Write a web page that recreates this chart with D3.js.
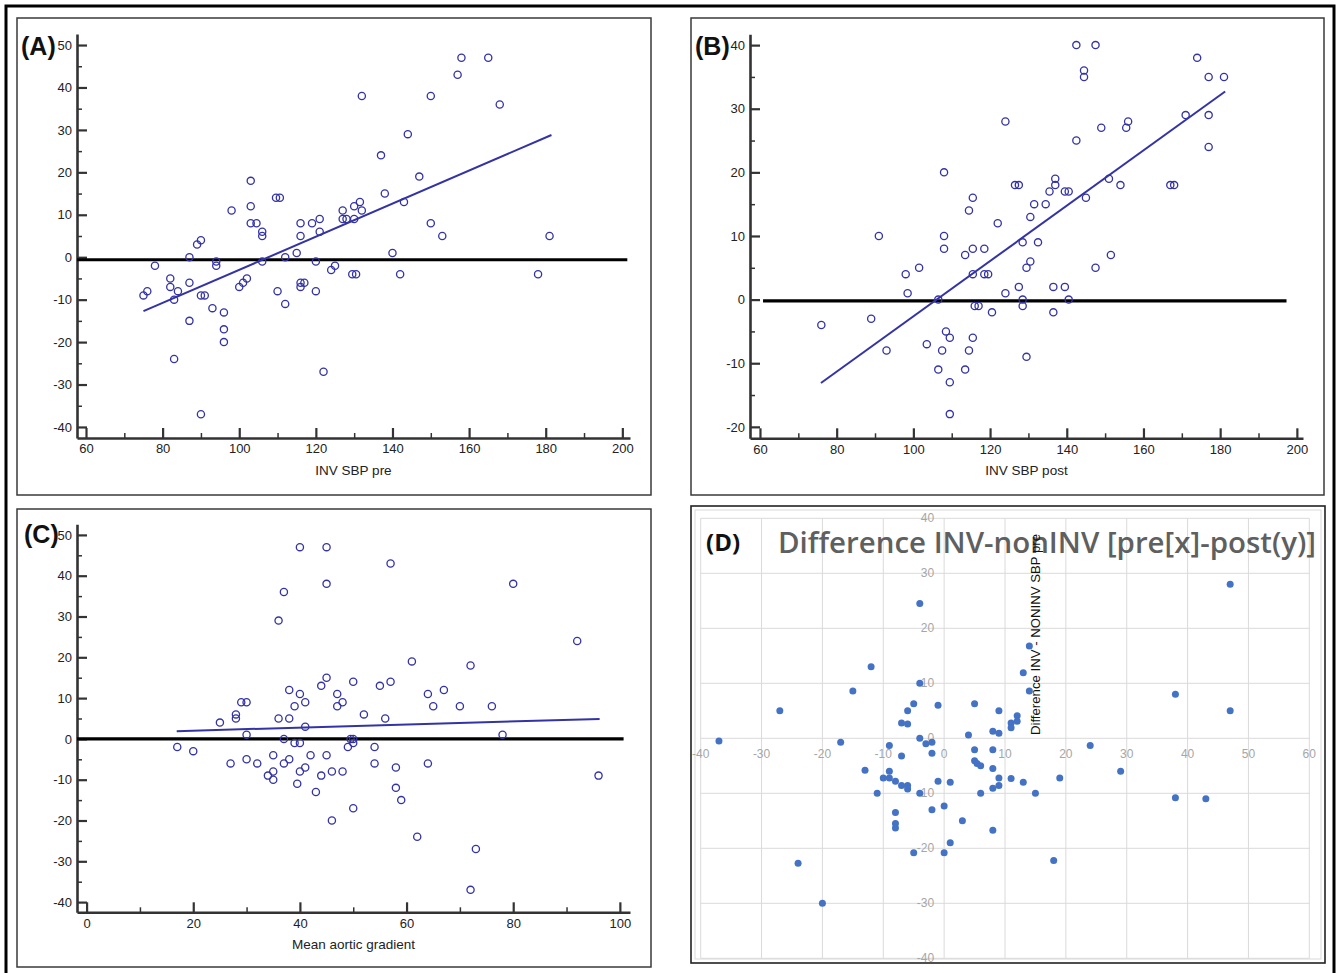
<!DOCTYPE html>
<html>
<head>
<meta charset="utf-8">
<script src="https://cdn.jsdelivr.net/npm/d3@7"></script>
<style>
  body { margin: 0; background: #fff; }
  svg { display: block; font-family: "Liberation Sans", Arial, sans-serif; }
</style>
</head>
<body>
<svg id="chart" width="1340" height="973"></svg>
<script>
// ---- data ----
// (A) difference vs INV SBP pre
const pointsA = [
  [75,-9],[76,-8],[78,-2],[82,-5],[82,-7],[83,-10],[83,-24],[84,-8],[87,0],[87,-6],[87,-15],
  [89,3],[90,4],[90,-9],[91,-9],[90,-37],[93,-12],[94,-1],[94,-2],[96,-13],[96,-17],[96,-20],
  [98,11],[100,-7],[101,-6],[102,-5],[103,18],[103,12],[103,8],[104.5,8],[106,6],[106,5],[106,-1],
  [109.6,14],[110.6,14],[110,-8],[112,0],[112,-11],[115,1],[116,8],[116,5],[116,-6],[116,-7],[117,-6],
  [119,8],[121,9],[121,6],[120,-1],[120,-8],[122,-27],[124,-3],[125,-2],[127,11],[127,9],[128,9],
  [130,9],[130,12],[131.5,13],[132,11],[129.5,-4],[130.5,-4],[132,38],[137,24],[138,15],[140,1],
  [142,-4],[143,13],[144,29],[147,19],[150,38],[150,8],[153,5],[157,43],[158,47],[165,47],[168,36],
  [178,-4],[181,5]
];
const fitA = [[75,-12.7],[181.5,28.8]];
const zeroA = [[57.7,-0.6],[201.3,-0.6]];

// (B) difference vs INV SBP post
const pointsB = [
  [76,-4],[89,-3],[91,10],[93,-8],[98,4],[98.5,1],[101.5,5],[103.5,-7],[106.5,0],[106.5,-11],
  [107.5,-8],[108,20],[108,10],[108,8],[108.5,-5],[109.5,-6],[109.5,-13],[109.5,-18],[113.5,7],
  [113.5,-11],[114.5,14],[114.5,-8],[115.5,16],[115.5,8],[115.5,4],[115.5,-6],[116,-1],[117,-1],
  [118.5,8],[118.5,4],[119.5,4],[120.5,-2],[122,12],[124,28],[124,1],[126.5,18],[127.5,18],[127.5,2],
  [128.5,9],[128.5,0],[128.5,-1],[129.5,5],[129.5,-9],[130.5,13],[130.5,6],[131.5,15],[132.5,9],
  [134.5,15],[135.5,17],[136.5,2],[136.5,-2],[137,19],[137,18],[139.5,17],[139.5,2],[140.5,17],
  [140.5,0],[142.5,40],[142.5,25],[144.5,36],[144.5,35],[145,16],[147.5,40],[147.5,5],[149,27],
  [151,19],[151.5,7],[154,18],[155.5,27],[156,28],[167,18],[168,18],[171,29],[174,38],[177,35],
  [177,29],[177,24],[181,35]
];
const fitB = [[75.9,-13.1],[181.3,32.7]];
const zeroB = [[60.8,-0.2],[197.3,-0.2]];

// (C) difference vs mean aortic gradient
const pointsC = [
  [17,-2],[20,-3],[25,4],[27,-6],[28,6],[28,5],[29,9],[30,9],[30,1],[30,-5],[32,-6],[34,-9],
  [35,-8],[35,-10],[35,-4],[36,29],[36,5],[37,36],[37,0],[37,-6],[38,12],[38,5],[38,-5],[39,8],
  [39,-1],[39.5,-11],[40,47],[40,11],[40,-1],[40,-8],[41,9],[41,3],[41,-7],[42,-4],[43,-13],[44,13],
  [44,-9],[45,47],[45,38],[45,15],[45,-4],[46,-8],[46,-20],[47,11],[47,8],[48,9],[48,-8],[49.5,0],
  [50,0],[50,-1],[49,-2],[50,14],[50,-17],[52,6],[54,-2],[54,-6],[55,13],[56,5],[57,43],[57,14],
  [58,-7],[58,-12],[59,-15],[61,19],[62,-24],[64,11],[64,-6],[65,8],[67,12],[70,8],[72,18],[72,-37],
  [73,-27],[76,8],[78,1],[80,38],[92,24],[96,-9]
];
const fitC = [[16.9,1.9],[96.2,4.9]];
const zeroC = [[-1.8,0],[100.7,0]];

// (D) difference INV-nonINV, pre (x) vs post (y)
const pointsD = [
  [-37,-0.5],[-27,5],[-24,-22.7],[-20,-30],[-17,-0.7],[-15,8.6],[-12,13],[-13,-5.8],[-11,-10],
  [-10,-7.2],[-9,-7.2],[-9,-6],[-9,-1.3],[-8,-7.8],[-7,-3.2],[-7,2.8],[-6,2.6],[-6,5],[-5,6.3],
  [-7,-8.6],[-6,-8.6],[-6,-9.2],[-8,-13.5],[-8,-15.5],[-8,-16.3],[-5,-20.8],[-4,24.5],[-4,10],
  [-4,0],[-4,-10],[-3,-1],[-2,-0.7],[-2,-2.7],[-1,6],[-1,-7.8],[-2,-13],[1,-8],[0,-12.3],[1,-19],
  [0,-20.8],[3,-15],[4,0.6],[5,6.3],[5,-2.1],[5,-4.1],[5.4,-4.6],[6,-5],[6,-10],[8,1.3],[9,0.9],
  [8,-2.1],[8,-5.5],[9,-7.2],[9,-8.6],[8,-9.1],[8,-16.7],[9,5],[11,2.8],[11,1.9],[12,4.1],[12,3.1],
  [11,-7.3],[13,-8],[13,11.9],[14,16.8],[14,8.6],[15,-10],[18,-22.2],[19,-7.2],[24,-1.3],[29,-6],
  [38,8],[38,-10.8],[43,-11],[47,28],[47,5]
];

// ticks
const sbpTicks = [60, 80, 100, 120, 140, 160, 180, 200];
const sbpMinor = [70, 90, 110, 130, 150, 170, 190];
const diffTicks = [-40, -30, -20, -10, 0, 10, 20, 30, 40, 50];
const diffMinor = [-35, -25, -15, -5, 5, 15, 25, 35, 45];
const diffTicksB = [-20, -10, 0, 10, 20, 30, 40];
const diffMinorB = [-15, -5, 5, 15, 25, 35];
const gradTicks = [0, 20, 40, 60, 80, 100];
const gradMinor = [10, 30, 50, 70, 90];
const dTicksX = [-40, -30, -20, -10, 0, 10, 20, 30, 40, 50, 60];
const dTicksY = [-40, -30, -20, -10, 0, 10, 20, 30, 40];

const svg = d3.select('#chart');
svg.append('rect').attr('width', 1340).attr('height', 973).attr('fill', '#fff');

const markColor = '#3333a6';
const plainFormat = d => String(d);   // hyphen minus, as in the figure

function drawPanel(cfg) {
    const g = svg.append('g');
    // panel frame
    g.append('rect')
        .attr('x', cfg.box[0]).attr('y', cfg.box[1])
        .attr('width', cfg.box[2] - cfg.box[0]).attr('height', cfg.box[3] - cfg.box[1])
        .attr('fill', '#fff').attr('stroke', '#3a3a3a').attr('stroke-width', 1.5);

    const x = d3.scaleLinear().domain(cfg.xDomain).range(cfg.xRange);
    const y = d3.scaleLinear().domain(cfg.yDomain).range(cfg.yRange);
    const x0 = cfg.xRange[0], yBottom = cfg.yRange[0];

    // minor ticks first
    g.append('g').attr('transform', `translate(${x0},0)`)
        .call(d3.axisLeft(y).tickValues(cfg.yMinor).tickSize(-5).tickSizeOuter(0).tickFormat(''))
        .call(a => a.select('.domain').remove())
        .call(a => a.selectAll('line').attr('stroke', '#333').attr('stroke-width', 1.5));
    g.append('g').attr('transform', `translate(0,${yBottom})`)
        .call(d3.axisBottom(x).tickValues(cfg.xMinor).tickSize(-5).tickSizeOuter(0).tickFormat(''))
        .call(a => a.select('.domain').remove())
        .call(a => a.selectAll('line').attr('stroke', '#333').attr('stroke-width', 1.5));

    // main axes
    g.append('g').attr('transform', `translate(${x0},0)`)
        .call(d3.axisLeft(y).tickValues(cfg.yTicks).tickFormat(plainFormat)
            .tickSize(-10).tickSizeOuter(0).tickPadding(5))
        .call(a => a.select('.domain').attr('stroke', '#333').attr('stroke-width', 2.6))
        .call(a => a.selectAll('line').attr('stroke', '#333').attr('stroke-width', 2.2))
        .call(a => a.selectAll('text').attr('fill', '#222').attr('font-size', 13)
            .attr('font-family', '"Liberation Sans", Arial, sans-serif'));
    g.append('g').attr('transform', `translate(0,${yBottom})`)
        .call(d3.axisBottom(x).tickValues(cfg.xTicks).tickFormat(plainFormat)
            .tickSize(-10).tickSizeOuter(0).tickPadding(6))
        .call(a => a.select('.domain').attr('stroke', '#333').attr('stroke-width', 2.6))
        .call(a => a.selectAll('line').attr('stroke', '#333').attr('stroke-width', 2.2))
        .call(a => a.selectAll('text').attr('fill', '#222').attr('font-size', 13)
            .attr('font-family', '"Liberation Sans", Arial, sans-serif'));

    // axis title
    g.append('text')
        .attr('x', (cfg.xRange[0] + cfg.xRange[1]) / 2).attr('y', yBottom + 37)
        .attr('text-anchor', 'middle').attr('font-size', 13.5).attr('fill', '#222')
        .text(cfg.xTitle);

    const line = d3.line().x(d => x(d[0])).y(d => y(d[1]));

    // reference line at zero
    g.append('path').datum(cfg.zero)
        .attr('d', line).attr('stroke', '#000').attr('stroke-width', 3.2).attr('fill', 'none');

    // regression line
    g.append('path').datum(cfg.fit)
        .attr('d', line).attr('stroke', markColor).attr('stroke-width', 2).attr('fill', 'none');

    // points
    g.append('g').selectAll('circle')
        .data(cfg.points)
        .enter()
        .append('circle')
        .attr('cx', d => x(d[0]))
        .attr('cy', d => y(d[1]))
        .attr('r', 3.6)
        .attr('fill', 'none')
        .attr('stroke', markColor)
        .attr('stroke-width', 1.3);

    // panel letter
    g.append('text')
        .attr('x', cfg.letterPos[0]).attr('y', cfg.letterPos[1])
        .attr('font-size', 25).attr('font-weight', 'bold').attr('fill', '#111')
        .text(cfg.letter);
}

drawPanel({
    box: [17, 18, 651, 495],
    xDomain: [57.65, 202], xRange: [77, 630],
    yDomain: [-42.6, 52.6], yRange: [438, 34],
    xTicks: sbpTicks, xMinor: sbpMinor, yTicks: diffTicks, yMinor: diffMinor,
    xTitle: 'INV SBP pre', points: pointsA, fit: fitA, zero: zeroA,
    letter: '(A)', letterPos: [21, 55]
});

drawPanel({
    box: [691, 18, 1324, 495],
    xDomain: [57.4, 201.6], xRange: [750, 1303],
    yDomain: [-21.8, 41.7], yRange: [438.3, 34.3],
    xTicks: sbpTicks, xMinor: sbpMinor, yTicks: diffTicksB, yMinor: diffMinorB,
    xTitle: 'INV SBP post', points: pointsB, fit: fitB, zero: zeroB,
    letter: '(B)', letterPos: [695, 55]
});

drawPanel({
    box: [17, 509, 651, 967],
    xDomain: [-1.8, 101.9], xRange: [77, 630],
    yDomain: [-42.5, 52.6], yRange: [912.3, 524.3],
    xTicks: gradTicks, xMinor: gradMinor, yTicks: diffTicks, yMinor: diffMinor,
    xTitle: 'Mean aortic gradient', points: pointsC, fit: fitC, zero: zeroC,
    letter: '(C)', letterPos: [24, 543]
});

// ---- panel D: spreadsheet-style scatter ----
(function drawPanelD() {
    const g = svg.append('g');
    g.append('rect').attr('x', 691).attr('y', 506).attr('width', 634).attr('height', 457)
        .attr('fill', '#fff').attr('stroke', '#222').attr('stroke-width', 1.6);
    g.append('rect').attr('x', 695).attr('y', 510).attr('width', 626).attr('height', 449)
        .attr('fill', 'none').attr('stroke', '#d9d9d9').attr('stroke-width', 1);

    const x = d3.scaleLinear().domain([-40, 60]).range([700.7, 1309.3]);
    const y = d3.scaleLinear().domain([-40, 40]).range([958.3, 518.3]);

    // gridlines
    g.append('g').selectAll('line.vx')
        .data(dTicksX).enter().append('line')
        .attr('x1', d => x(d)).attr('x2', d => x(d))
        .attr('y1', y(40)).attr('y2', y(-40))
        .attr('stroke', '#dadada').attr('stroke-width', 1);
    g.append('g').selectAll('line.hy')
        .data(dTicksY).enter().append('line')
        .attr('x1', x(-40)).attr('x2', x(60))
        .attr('y1', d => y(d)).attr('y2', d => y(d))
        .attr('stroke', '#dadada').attr('stroke-width', 1);

    // tick labels along the zero lines
    g.append('g').selectAll('text')
        .data(dTicksX).enter().append('text')
        .attr('x', d => x(d)).attr('y', y(0) + 20)
        .attr('text-anchor', 'middle').attr('font-size', 12).attr('fill', '#a6a6a6')
        .text(d => d);
    g.append('g').selectAll('text')
        .data(dTicksY).enter().append('text')
        .attr('x', x(0) - 10).attr('y', d => y(d) + 4)
        .attr('text-anchor', 'end').attr('font-size', 12).attr('fill', '#a6a6a6')
        .text(d => d);

    // points
    g.append('g').selectAll('circle')
        .data(pointsD).enter().append('circle')
        .attr('cx', d => x(d[0])).attr('cy', d => y(d[1]))
        .attr('r', 3.5).attr('fill', '#4472c4');

    // chart title
    g.append('text')
        .attr('x', 778).attr('y', 553)
        .attr('font-family', '"Open Sans", "Noto Sans", sans-serif')
        .attr('font-size', 28).attr('font-weight', 600).attr('fill', '#5f5f5f')
        .attr('textLength', 538).attr('lengthAdjust', 'spacingAndGlyphs')
        .text('Difference INV-nonINV [pre[x]-post(y)]');

    // vertical axis title
    g.append('text')
        .attr('transform', 'translate(1040,735) rotate(-90)')
        .attr('font-size', 12.5).attr('fill', '#111')
        .attr('textLength', 201).attr('lengthAdjust', 'spacingAndGlyphs')
        .text('Difference INV - NONINV SBP pre');

    g.append('text')
        .attr('x', 706).attr('y', 551)
        .attr('font-family', '"Open Sans", "Noto Sans", sans-serif')
        .attr('font-size', 24).attr('font-weight', 'bold').attr('fill', '#111')
        .text('(D)');
})();

// outer frame of the figure
svg.append('rect')
    .attr('x', 6).attr('y', 6).attr('width', 1328).attr('height', 980)
    .attr('fill', 'none').attr('stroke', '#000').attr('stroke-width', 3);
</script>
</body>
</html>
